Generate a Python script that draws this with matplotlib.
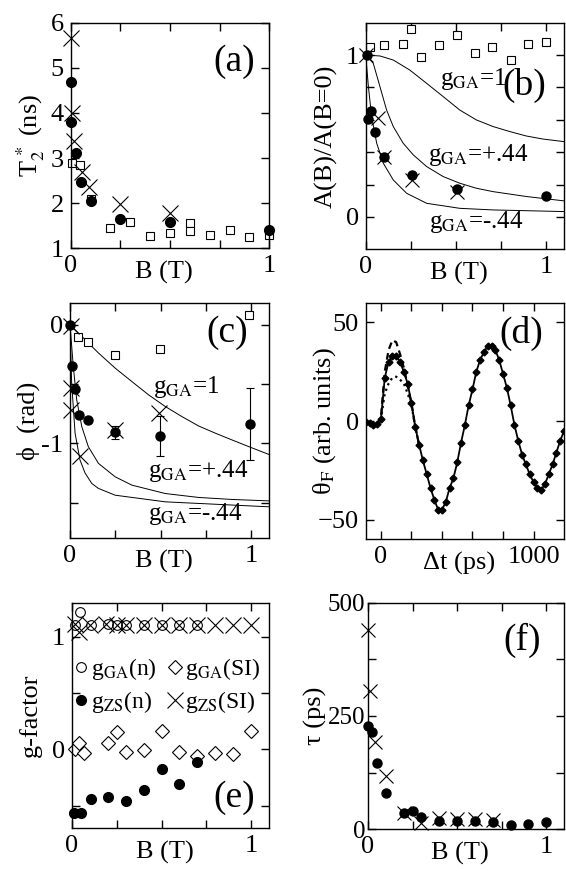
import matplotlib
matplotlib.use("Agg")
import matplotlib.pyplot as plt

plt.rcParams['font.family'] = ['Liberation Serif', 'DejaVu Serif']
plt.rcParams['mathtext.fontset'] = 'stix'
plt.rcParams['font.size'] = 19

# ---- (a) T2* vs B ----
a_sq_b = [0.005, 0.047, 0.1, 0.2, 0.3, 0.4, 0.5, 0.6, 0.6, 0.7, 0.8, 0.9, 1.0]
a_sq_t = [2.89, 2.85, 2.1, 1.46, 1.59, 1.28, 1.33, 1.57, 1.385, 1.3, 1.41, 1.26, 1.3]
a_x_b = [0.0, 0.005, 0.017, 0.055, 0.09, 0.25, 0.5]
a_x_t = [5.67, 4.0, 3.37, 2.7, 2.37, 1.99, 1.78]
a_c_b = [0.0, 0.0, 0.027, 0.05, 0.1, 0.25, 0.5, 1.0]
a_c_t = [4.68, 3.79, 3.11, 2.48, 2.04, 1.65, 1.59, 1.41]

# ---- (b) A(B)/A(0) ----
b_sq_b = [0.024, 0.101, 0.205, 0.251, 0.304, 0.406, 0.504, 0.605, 0.703, 0.804, 0.9, 0.998]
b_sq_a = [1.047, 1.062, 1.068, 1.158, 0.986, 1.062, 1.123, 1.014, 1.047, 0.969, 1.068, 1.082]
b_c_b = [0.005, 0.028, 0.015, 0.052, 0.101, 0.255, 0.504, 1.0]
b_c_a = [1.0, 0.656, 0.603, 0.523, 0.372, 0.259, 0.171, 0.13]
b_x_b = [0.0, 0.07, 0.1, 0.255, 0.504]
b_x_a = [1.0, 0.61, 0.372, 0.228, 0.156]
b_g1_b = [0.0, 0.08, 0.153, 0.245, 0.338, 0.43, 0.522, 0.614, 0.707, 0.8, 0.89, 0.983, 1.1]
b_g1_a = [1.0, 0.994, 0.969, 0.907, 0.825, 0.743, 0.66, 0.599, 0.558, 0.527, 0.5, 0.481, 0.465]
b_gp_b = [0.0, 0.042, 0.079, 0.116, 0.153, 0.208, 0.264, 0.338, 0.43, 0.522, 0.614, 0.707, 0.891, 1.1]
b_gp_a = [1.0, 0.949, 0.805, 0.66, 0.558, 0.455, 0.383, 0.311, 0.249, 0.208, 0.177, 0.156, 0.126, 0.099]
b_gm_b = [0.0, 0.015, 0.033, 0.061, 0.098, 0.153, 0.227, 0.338, 0.522, 0.707, 1.1]
b_gm_a = [1.0, 0.805, 0.619, 0.455, 0.331, 0.228, 0.146, 0.084, 0.053, 0.043, 0.033]

# ---- (c) phase ----
c_sq_b = [0.042, 0.1, 0.249, 0.494, 0.99]
c_sq_p = [-0.104, -0.149, -0.254, -0.206, 0.085]
c_c_b = [0.0, 0.009, 0.028, 0.05, 0.098, 0.249, 0.498, 0.996]
c_c_p = [0.0, -0.35, -0.54, -0.76, -0.80, -0.907, -0.938, -0.837]
c_c_err = [0, 0, 0, 0, 0, 0.055, 0.17, 0.30]
c_x_b = [0.005, 0.005, 0.005, 0.249, 0.49, 0.055]
c_x_p = [-0.01, -0.535, -0.72, -0.887, -0.746, -1.11]
c_g1_b = [0.0, 0.065, 0.157, 0.249, 0.341, 0.434, 0.526, 0.618, 0.71, 0.803, 0.895, 0.987, 1.1]
c_g1_p = [0.0, -0.099, -0.239, -0.366, -0.479, -0.592, -0.69, -0.775, -0.854, -0.915, -0.972, -1.028, -1.095]
c_gp_b = [0.0, 0.018, 0.037, 0.065, 0.101, 0.157, 0.249, 0.341, 0.526, 0.71, 0.895, 1.1]
c_gp_p = [0.0, -0.352, -0.634, -0.859, -1.028, -1.169, -1.282, -1.352, -1.423, -1.456, -1.473, -1.485]
c_gm_b = [0.0, 0.009, 0.028, 0.055, 0.083, 0.12, 0.157, 0.249, 0.526, 1.1]
c_gm_p = [0.0, -0.49, -0.915, -1.14, -1.25, -1.338, -1.38, -1.437, -1.493, -1.535]

# ---- (d) Faraday rotation trace ----
d_t = [-100, -75, -50, -25, 0, 25, 50, 75, 100, 125, 150, 175, 200, 225, 250, 275,
       300, 325, 350, 375, 400, 425, 450, 475, 500, 525, 550, 575, 600, 625, 650, 675,
       700, 725, 750, 775, 800, 825, 850, 875, 900, 925, 950, 975, 1000, 1025, 1050,
       1075, 1100, 1125, 1150, 1175, 1200]
d_theta = [-0.5, -1.2, -2.0, -1.5, 1, 22, 30, 33, 33, 30, 25, 19, 9, -3, -12, -20,
           -27, -34, -40, -45, -45, -41, -34, -29, -21, -11, -2, 8, 16, 25, 31, 35,
           38, 38, 36, 31, 24, 17, 8, -2, -10, -17, -22, -27, -31, -34, -35,
           -32, -27, -22, -16, -10, -5]
d_dash_t = [-100, -50, -25, 0, 25, 50, 75, 100, 125, 150, 175, 200, 225, 250]
d_dash_theta = [-0.5, -2.0, -1.5, 2, 25, 36, 41, 40, 34, 27, 18, 9, -3, -12]
d_dot_t = [-100, -50, -25, 0, 25, 50, 75, 100, 125, 150, 175, 200, 225, 250]
d_dot_theta = [-0.5, -2.0, -1.5, 1, 14, 19, 22, 22.5, 21, 19, 14, 8, -3, -12]

# ---- (e) g-factors ----
e_gan_b = [0.046, 0.02, 0.11, 0.2, 0.25, 0.3, 0.4, 0.5, 0.6, 0.7]
e_gan_g = [1.22, 1.1, 1.1, 1.11, 1.1, 1.1, 1.1, 1.1, 1.1, 1.1]
e_gasi_b = [0.02, 0.04, 0.07, 0.2, 0.25, 0.3, 0.4, 0.5, 0.6, 0.7, 0.8, 0.9, 1.0]
e_gasi_g = [0.0, 0.06, -0.03, 0.06, 0.15, -0.02, -0.01, 0.16, -0.02, -0.06, -0.03, -0.04, 0.16]
e_zsn_b = [0.013, 0.05, 0.11, 0.2, 0.3, 0.4, 0.5, 0.6, 0.7]
e_zsn_g = [-0.565, -0.565, -0.44, -0.42, -0.46, -0.36, -0.17, -0.31, -0.11]
e_zssi_b = [0.02, 0.04, 0.1, 0.19, 0.25, 0.3, 0.4, 0.5, 0.6, 0.7, 0.8, 0.9, 1.0]
e_zssi_g = [1.11, 1.04, 1.1, 1.11, 1.1, 1.1, 1.1, 1.1, 1.1, 1.1, 1.1, 1.1, 1.1]

# ---- (f) tau ----
f_x_b = [0.0, 0.013, 0.037, 0.1, 0.2, 0.3, 0.4, 0.5, 0.6, 0.7]
f_x_tau = [440, 304, 193, 118, 35, 13, 24, 22, 22, 21]
f_c_b = [0.0, 0.024, 0.05, 0.1, 0.2, 0.25, 0.3, 0.4, 0.5, 0.6, 0.7, 0.8, 0.9, 1.0]
f_c_tau = [228, 215, 147, 79, 35, 40, 28, 19, 19, 19, 15, 10, 11, 15]


def style(ax):
    ax.tick_params(direction='in', top=True, right=True, length=6, width=1,
                   labelsize=19, pad=5)
    for s in ax.spines.values():
        s.set_linewidth(1)


def panel_label(ax, txt, x, y):
    ax.text(x, y, txt, transform=ax.transAxes, ha='right', va='center', fontsize=27)


def labels(ax, xl, yl, ylx, xly=-0.105):
    ax.set_xlabel(xl, va='center')
    ax.set_ylabel(yl, va='center')
    ax.xaxis.set_label_coords(0.47, xly)
    ax.yaxis.set_label_coords(ylx, 0.5)


fig = plt.figure(figsize=(5.66, 8.71), dpi=100)

# (a)
ax = fig.add_axes([0.1249, 0.7149, 0.3509, 0.259])
style(ax)
ax.plot(a_sq_b, a_sq_t, 's', mfc='white', mec='k', ms=6, mew=0.8, clip_on=False)
ax.plot(a_x_b, a_x_t, 'x', color='k', ms=11, mew=0.8, clip_on=False)
ax.plot(a_c_b, a_c_t, 'o', color='k', ms=7, clip_on=False)
ax.set_xlim(0, 1)
ax.set_ylim(1, 6)
ax.set_xticks([0, 0.25, 0.5, 0.75, 1], ['0', '', '', '', '1'])
ax.set_yticks([1, 2, 3, 4, 5, 6])
labels(ax, 'B (T)', r'T$_2^{\,*}$ (ns)', -0.2)
panel_label(ax, '(a)', 0.93, 0.826)

# (b)
ax = fig.add_axes([0.6461, 0.7138, 0.3504, 0.2602])
style(ax)
ax.plot(b_g1_b, b_g1_a, '-', color='k', lw=0.7)
ax.plot(b_gp_b, b_gp_a, '-', color='k', lw=0.7)
ax.plot(b_gm_b, b_gm_a, '-', color='k', lw=0.7)
ax.plot(b_sq_b, b_sq_a, 's', mfc='white', mec='k', ms=5.5, mew=0.8, clip_on=False)
ax.plot(b_c_b, b_c_a, 'o', color='k', ms=6.5, clip_on=False)
ax.plot(b_x_b, b_x_a, 'x', color='k', ms=10, mew=0.8, clip_on=False)
ax.set_xlim(0, 1.1)
ax.set_ylim(-0.2, 1.2)
ax.set_xticks([0, 0.25, 0.5, 0.75, 1], ['0', '', '', '', '1'])
ax.set_yticks([0, 0.2, 0.4, 0.6, 0.8, 1.0], ['0', '', '', '', '', '1'])
labels(ax, 'B (T)', 'A(B)/A(B=0)', -0.2)
ax.text(0.41, 0.815, r'g$_{\rm GA}$=1', fontsize=18, va='baseline')
ax.text(0.345, 0.346, r'g$_{\rm GA}$=+.44', fontsize=18, va='baseline')
ax.text(0.353, -0.068, r'g$_{\rm GA}$=-.44', fontsize=18, va='baseline')
panel_label(ax, '(b)', 0.91, 0.725)

# (c)
ax = fig.add_axes([0.1237, 0.382, 0.3521, 0.2698])
style(ax)
ax.plot(c_g1_b, c_g1_p, '-', color='k', lw=0.7)
ax.plot(c_gp_b, c_gp_p, '-', color='k', lw=0.7)
ax.plot(c_gm_b, c_gm_p, '-', color='k', lw=0.7)
ax.plot(c_sq_b, c_sq_p, 's', mfc='white', mec='k', ms=5.5, mew=0.8, clip_on=False)
ax.errorbar(c_c_b, c_c_p, yerr=c_c_err, fmt='o', color='k', ms=6.5, elinewidth=0.8,
            capsize=3, capthick=0.8, clip_on=False)
ax.plot(c_x_b, c_x_p, 'x', color='k', ms=11, mew=0.8, clip_on=False)
ax.set_xlim(0, 1.1)
ax.set_ylim(-1.8, 0.18)
ax.set_xticks([0, 0.25, 0.5, 0.75, 1], ['0', '', '', '', '1'])
ax.set_yticks([-1.5, -1, -0.5, 0], ['', '-1', '', '0'])
labels(ax, 'B (T)', 'ϕ  (rad)', -0.21, -0.1)
ax.text(0.46, -0.575, r'g$_{\rm GA}$=1', fontsize=18, va='baseline')
ax.text(0.433, -1.282, r'g$_{\rm GA}$=+.44', fontsize=18, va='baseline')
ax.text(0.433, -1.648, r'g$_{\rm GA}$=-.44', fontsize=18, va='baseline')
panel_label(ax, '(c)', 0.893, 0.874)

# (d)
ax = fig.add_axes([0.6461, 0.3808, 0.3504, 0.2716])
style(ax)
ax.plot(d_dash_t, d_dash_theta, '--', color='k', lw=1.6, dashes=(3, 2))
ax.plot(d_dot_t, d_dot_theta, ':', color='k', lw=1.6)
ax.plot(d_t, d_theta, '-', color='k', lw=1.3, marker='D', ms=3.5)
ax.set_xlim(-100, 1200)
ax.set_ylim(-60, 60)
ax.set_xticks([0, 200, 400, 600, 800, 1000], ['0', '', '', '', '', '1000'])
ax.set_yticks([-50, 0, 50])
labels(ax, 'Δt (ps)', r'θ$_{\rm F}$ (arb. units)', -0.207, -0.1)
panel_label(ax, '(d)', 0.894, 0.872)

# (e)
ax = fig.add_axes([0.1267, 0.049, 0.3491, 0.259])
style(ax)
h1, = ax.plot(e_gan_b, e_gan_g, 'o', mfc='none', mec='k', ms=7, mew=0.8, clip_on=False)
h2, = ax.plot(e_gasi_b, e_gasi_g, 'D', mfc='white', mec='k', ms=7, mew=0.8, clip_on=False)
h3, = ax.plot(e_zsn_b, e_zsn_g, 'o', color='k', ms=7, clip_on=False)
h4, = ax.plot(e_zssi_b, e_zssi_g, 'x', color='k', ms=11, mew=0.8, clip_on=False)
ax.set_xlim(0, 1.1)
ax.set_ylim(-0.7, 1.3)
ax.set_xticks([0, 0.25, 0.5, 0.75, 1], ['0', '', '', '', '1'])
ax.set_yticks([-0.5, 0, 0.5, 1], ['', '0', '', '1'])
labels(ax, 'B (T)', 'g-factor', -0.21)
ax.legend([h1, h3, h2, h4],
          [r'g$_{\rm GA}$(n)', r'g$_{\rm ZS}$(n)', r'g$_{\rm GA}$(SI)', r'g$_{\rm ZS}$(SI)'],
          ncol=2, frameon=False, fontsize=17, handlelength=0.6, handletextpad=0.15,
          columnspacing=0.45, labelspacing=0.3, borderpad=0,
          loc='upper left', bbox_to_anchor=(-0.05, 0.815))
panel_label(ax, '(e)', 0.928, 0.134)

# (f)
ax = fig.add_axes([0.6502, 0.0479, 0.3463, 0.2602])
style(ax)
ax.tick_params(axis='y', labelsize=18, pad=2)
ax.plot(f_x_b, f_x_tau, 'x', color='k', ms=10, mew=0.8, clip_on=False)
ax.plot(f_c_b, f_c_tau, 'o', color='k', ms=6.5, clip_on=False)
ax.set_xlim(0, 1.1)
ax.set_ylim(0, 500)
ax.set_xticks([0, 0.25, 0.5, 0.75, 1], ['0', '', '', '', '1'])
ax.set_yticks([0, 125, 250, 375, 500], ['0', '', '250', '', '500'])
labels(ax, 'B (T)', 'τ (ps)', -0.27)
panel_label(ax, '(f)', 0.883, 0.835)

fig.savefig('out.png', dpi=100)
